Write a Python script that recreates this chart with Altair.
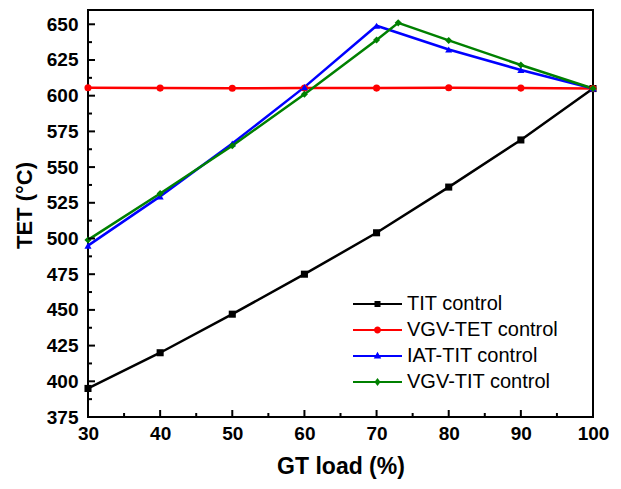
import altair as alt
import pandas as pd

# ---- data ----
load = [30, 40, 50, 60, 70, 80, 90, 100]
tit_control = [395, 420, 447, 475, 504, 536, 569, 605]
vgv_tet_control = [605.5, 605.3, 605.2, 605.3, 605.3, 605.6, 605.3, 605]
iat_tit_control = [495, 529.5, 566.5, 606, 649, 632.3, 618, 605]
vgv_tit_load = [30, 40, 50, 60, 70, 73, 80, 90, 100]
vgv_tit_control = [499, 531.5, 565, 601, 639, 651, 638.7, 621.5, 605]

series_names = ["TIT control", "VGV-TET control", "IAT-TIT control", "VGV-TIT control"]
series_colors = ["#000000", "#FF0000", "#0000FF", "#008000"]
marker_shapes = ["square", "circle", "triangle-up", "diamond"]

x_major = [30, 40, 50, 60, 70, 80, 90, 100]
x_minor = [35, 45, 55, 65, 75, 85, 95]
y_major = [375, 400, 425, 450, 475, 500, 525, 550, 575, 600, 625, 650]
y_minor = [387.5, 412.5, 437.5, 462.5, 487.5, 512.5, 537.5, 562.5, 587.5, 612.5, 637.5]

rows = []
for name, xs, ys in [
    (series_names[0], load, tit_control),
    (series_names[1], load, vgv_tet_control),
    (series_names[2], load, iat_tit_control),
    (series_names[3], vgv_tit_load, vgv_tit_control),
]:
    for xv, yv in zip(xs, ys):
        rows.append({"series": name, "load": xv, "tet": yv})
df = pd.DataFrame(rows)

# legend symbols: a line with the marker in the middle.
# symbol size 100 -> 5 px per path unit.
line_part = "M-1,-0.22L8.8,-0.22L8.8,0.22L-1,0.22Z"
c = 3.9  # marker centre (middle of the line)
legend_paths = [
    line_part + f"M{c-0.6},-0.6L{c+0.6},-0.6L{c+0.6},0.6L{c-0.6},0.6Z",
    line_part + f"M{c-0.7},0A0.7,0.7 0 1,1 {c+0.7},0A0.7,0.7 0 1,1 {c-0.7},0Z",
    line_part + f"M{c},-0.85L{c+0.75},0.5L{c-0.75},0.5Z",
    line_part + f"M{c},-0.8L{c+0.6},0L{c},0.8L{c-0.6},0Z",
]

W, H = 505, 407
FONT = "Liberation Sans"

x_scale = alt.Scale(domain=[30, 100], nice=False, zero=False)
y_scale = alt.Scale(domain=[375, 660], nice=False, zero=False)

x_axis = alt.Axis(values=x_major, title="GT load (%)", labelPadding=7, labelFlush=False,
                  titlePadding=12, titleFontSize=23, labelOverlap=False)
y_axis = alt.Axis(values=y_major, title="TET (\u00b0C)", labelPadding=10, labelFlush=False,
                  titlePadding=10, titleFontSize=22, labelOverlap=False, titleY=195)

x_enc = alt.X("load:Q", scale=x_scale, axis=x_axis)
y_enc = alt.Y("tet:Q", scale=y_scale, axis=y_axis)

color_plain = alt.Color("series:N", scale=alt.Scale(domain=series_names, range=series_colors),
                        legend=None)

base = alt.Chart(df)

lines = base.mark_line(strokeWidth=2.5).encode(x=x_enc, y=y_enc, color=color_plain)

points = base.mark_point(filled=True, opacity=1, size=50).encode(
    x=x_enc, y=y_enc, color=color_plain,
    shape=alt.Shape("series:N", scale=alt.Scale(domain=series_names, range=marker_shapes),
                    legend=None),
)

leg = alt.Legend(title=None, orient="none", legendX=260, legendY=284, padding=0,
                 symbolSize=100, symbolStrokeWidth=0, labelFont=FONT, labelFontSize=20,
                 labelColor="black", labelOffset=39, rowPadding=6, symbolOpacity=1)

legend_layer = base.transform_filter("false").mark_point(filled=True, opacity=1, size=100).encode(
    x=x_enc, y=y_enc,
    color=alt.Color("series:N", scale=alt.Scale(domain=series_names, range=series_colors),
                    legend=leg),
    shape=alt.Shape("series:N", scale=alt.Scale(domain=series_names, range=legend_paths),
                    legend=leg),
)

# inward ticks
xt_major = alt.Chart(pd.DataFrame({"load": x_major})).mark_rule(color="black", strokeWidth=2).encode(
    x=x_enc, y=alt.value(H), y2=alt.value(H - 7))
xt_minor = alt.Chart(pd.DataFrame({"load": x_minor})).mark_rule(color="black", strokeWidth=2).encode(
    x=x_enc, y=alt.value(H), y2=alt.value(H - 4))
yt_major = alt.Chart(pd.DataFrame({"tet": y_major})).mark_rule(color="black", strokeWidth=2).encode(
    y=y_enc, x=alt.value(0), x2=alt.value(7))
yt_minor = alt.Chart(pd.DataFrame({"tet": y_minor})).mark_rule(color="black", strokeWidth=2).encode(
    y=y_enc, x=alt.value(0), x2=alt.value(4))

chart = alt.layer(
    lines, points, xt_major, xt_minor, yt_major, yt_minor, legend_layer
).resolve_scale(
    color="independent", shape="independent"
).properties(
    width=W, height=H,
    autosize=alt.AutoSizeParams(type="none"),
    padding={"left": 80, "top": 2, "right": 20, "bottom": 64},
).configure_view(
    stroke="black", strokeWidth=2
).configure_axis(
    ticks=False, domain=False, grid=False, labelOverlap=False, labelFlush=False,
    labelFont=FONT, labelFontSize=19, labelFontWeight="bold", labelColor="black",
    titleFont=FONT, titleFontWeight="bold", titleColor="black",
)

chart.save("out.html", embed_options={"renderer": "svg", "actions": False})
